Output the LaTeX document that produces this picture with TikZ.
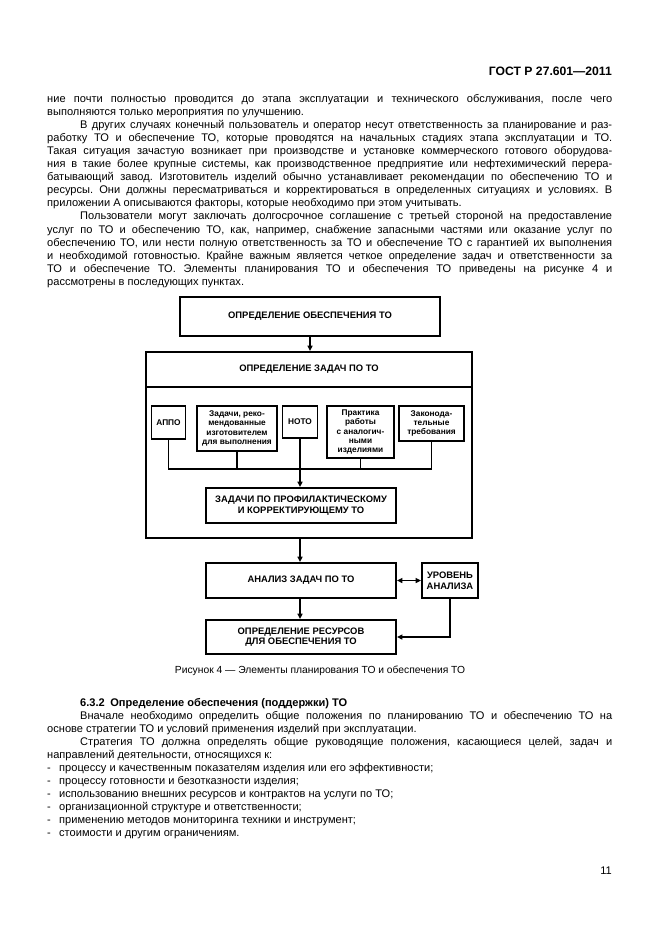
\documentclass[tikz,border=0pt]{standalone}
\usepackage{fontspec}
\setmainfont{Liberation Sans}
\usetikzlibrary{arrows.meta}

\newlength\pxu \setlength\pxu{0.3177mm}
\newlength\tw \setlength\tw{565\pxu}
\newcommand{\bodyfont}{\fontsize{10}{11.8}\selectfont\frenchspacing}
% paragraph set-up inside the text nodes (justified, forced line ends)
\newcommand{\parset}{\parindent=33\pxu\parskip=0pt\leftskip=0pt\rightskip=0pt
  \spaceskip=0.278em plus 0.8em minus 0.07em\xspaceskip=\spaceskip
  \tolerance=10000\hyphenpenalty=10000\exhyphenpenalty=10000\relax}
\newcommand{\li}[1]{\noindent\makebox[12\pxu][l]{-}#1\par}

\begin{document}
\begin{tikzpicture}[x=\pxu,y=-\pxu]
    \tikzstyle{box}=[draw,line width=1.6pt,align=center,inner sep=1pt,font=\fontsize{8.5}{9.6}\selectfont\bfseries]
    \tikzstyle{small}=[draw,line width=1.6pt,align=center,inner sep=1pt,font=\fontsize{7.5}{8.3}\selectfont\bfseries]
    \tikzstyle{link}=[line width=1.6pt]
    \tikzstyle{arr}=[line width=1.6pt,-{Triangle[length=5pt,width=4.5pt]}]
    \tikzstyle{txt}=[inner sep=0pt,anchor=base west,text width=\tw,font=\bodyfont]

    \useasboundingbox (0,0) rectangle (661,936);

    \node[anchor=base east,inner sep=0pt,font=\fontsize{11}{13}\selectfont\bfseries] at (612,75.5) (gost) {ГОСТ Р 27.601—2011};

    \node[txt] at (47,102.5) (p1) {\parset\noindent
ние почти полностью проводится до этапа эксплуатации и технического обслуживания, после чего\linebreak
выполняются только мероприятия по улучшению.\par
В других случаях конечный пользователь и оператор несут ответственность за планирование и раз-\linebreak
работку ТО и обеспечение ТО, которые проводятся на начальных стадиях этапа эксплуатации и ТО.\linebreak
Такая ситуация зачастую возникает при производстве и установке коммерческого готового оборудова-\linebreak
ния в такие более крупные системы, как производственное предприятие или нефтехимический перера-\linebreak
батывающий завод. Изготовитель изделий обычно устанавливает рекомендации по обеспечению ТО и\linebreak
ресурсы. Они должны пересматриваться и корректироваться в определенных ситуациях и условиях. В\linebreak
приложении А описываются факторы, которые необходимо при этом учитывать.\par
Пользователи могут заключать долгосрочное соглашение с третьей стороной на предоставление\linebreak
услуг по ТО и обеспечению ТО, как, например, снабжение запасными частями или оказание услуг по\linebreak
обеспечению ТО, или нести полную ответственность за ТО и обеспечение ТО с гарантией их выполнения\linebreak
и необходимой готовностью. Крайне важным является четкое определение задач и ответственности за\linebreak
ТО и обеспечение ТО. Элементы планирования ТО и обеспечения ТО приведены на рисунке 4 и\linebreak
рассмотрены в последующих пунктах.\par};

    % figure 4
    \node[box,minimum width=260*\pxu,minimum height=39*\pxu] at (310,316.5) (ob) {ОПРЕДЕЛЕНИЕ ОБЕСПЕЧЕНИЯ ТО};
    \node[box,minimum width=326*\pxu,minimum height=186*\pxu] at (309,445) (zad) {};
    \node[box,minimum width=326*\pxu,minimum height=35*\pxu] at (309,369.5) (zadt) {ОПРЕДЕЛЕНИЕ ЗАДАЧ ПО ТО};

    \node[small,minimum width=34*\pxu,minimum height=33*\pxu] at (168.5,422.5) (appo) {АППО};
    \node[small,minimum width=80*\pxu,minimum height=45*\pxu] at (237,428.5) (rek) {Задачи, реко-\\мендованные\\изготовителем\\для выполнения};
    \node[small,minimum width=35*\pxu,minimum height=32*\pxu] at (300,422) (noto) {НОТО};
    \node[small,minimum width=67*\pxu,minimum height=52*\pxu] at (360.5,432) (prak) {Практика\\работы\\с аналогич-\\ными\\изделиями};
    \node[small,minimum width=65*\pxu,minimum height=35*\pxu] at (431.5,423.5) (zak) {Законода-\\тельные\\требования};

    \node[box,minimum width=190*\pxu,minimum height=35*\pxu] at (301,505.5) (zpk) {ЗАДАЧИ ПО ПРОФИЛАКТИЧЕСКОМУ\\И КОРРЕКТИРУЮЩЕМУ ТО};
    \node[box,minimum width=190*\pxu,minimum height=35*\pxu] at (301,580.5) (an) {АНАЛИЗ ЗАДАЧ ПО ТО};
    \node[box,minimum width=56*\pxu,minimum height=35*\pxu] at (450,580.5) (ur) {УРОВЕНЬ\\АНАЛИЗА};
    \node[box,minimum width=190*\pxu,minimum height=34*\pxu] at (301,637) (res) {ОПРЕДЕЛЕНИЕ РЕСУРСОВ\\ДЛЯ ОБЕСПЕЧЕНИЯ ТО};

    \coordinate (bus) at (0,469);

    \draw[arr] (ob) -- (ob |- zad.north);
    \draw[link] (appo) -- (appo |- bus) -- (zak |- bus) -- (zak);
    \draw[link] (rek) -- (rek |- bus);
    \draw[link] (prak) -- (prak |- bus);
    \draw[arr] (noto) -- (noto |- zpk.north);
    \draw[arr] (noto |- zad.south) -- (noto |- an.north);
    \draw[arr] (noto |- an.south) -- (noto |- res.north);
    \draw[arr,{Triangle[length=5pt,width=4.5pt]}-{Triangle[length=5pt,width=4.5pt]}] (an) -- (ur);
    \draw[arr] (ur) |- (res);

    \node[anchor=base,inner sep=0pt,font=\fontsize{9.3}{11}\selectfont] at (320,673) (cap) {Рисунок 4 — Элементы планирования ТО и обеспечения ТО};

    \node[txt] at (47,706) (p2) {\parset
\hspace*{33\pxu}\textbf{6.3.2\enspace Определение обеспечения (поддержки) ТО}\par
Вначале необходимо определить общие положения по планированию ТО и обеспечению ТО на\linebreak
основе стратегии ТО и условий применения изделий при эксплуатации.\par
Стратегия ТО должна определять общие руководящие положения, касающиеся целей, задач и\linebreak
направлений деятельности, относящихся к:\par
\li{процессу и качественным показателям изделия или его эффективности;}
\li{процессу готовности и безотказности изделия;}
\li{использованию внешних ресурсов и контрактов на услуги по ТО;}
\li{организационной структуре и ответственности;}
\li{применению методов мониторинга техники и инструмент;}
\li{стоимости и другим ограничениям.}};

    \node[anchor=base east,inner sep=0pt,font=\bodyfont] at (612,874) (pg) {11};
\end{tikzpicture}
\end{document}
